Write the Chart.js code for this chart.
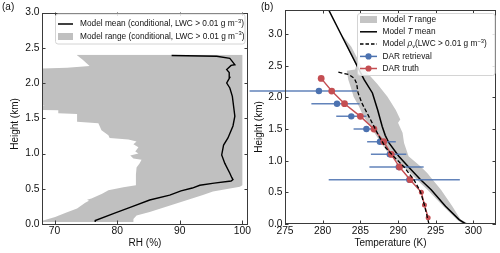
<!DOCTYPE html>
<html><head><meta charset="utf-8">
<script src="https://cdn.jsdelivr.net/npm/chart.js@4/dist/chart.umd.min.js"></script>
<style>
html,body{margin:0;padding:0;background:#fff;}
#wrap{position:relative;width:500px;height:253px;background:#fff;}
canvas{position:absolute;left:0;top:0;}
</style></head><body>
<div id="wrap"><canvas id="ca" width="500" height="253"></canvas><canvas id="cb" width="500" height="253"></canvas></div>
<script>
// ---------------- Panel (a): RH profile ----------------
const rhRangeLowHeight = [0.03,0.05,0.10,0.16,0.22,0.30,0.33,0.345,0.36,0.43,0.48,0.52,0.55,0.70,0.80,0.86,0.91,0.93,0.97,1.00,1.03,1.09,1.13,1.17,1.20,1.22,1.26,1.33,1.43,1.45,1.56,1.57,1.615,1.62,1.665,1.68,1.695,2.20,2.215,2.24,2.33,2.40];
const rhRangeLowValue  = [66,68.2,70.1,71.8,73.6,74.9,75.5,75.2,75.9,77.6,78.6,81.0,83.0,83.0,83.1,83.6,83.9,82.6,82.1,83.4,82.9,83.4,82.6,83.1,81.8,78.8,78.6,77.5,77.0,73.6,73.6,70.6,70.6,66,66,68.5,66,66,72,75.6,74.5,73.5];
const rhRangeHighHeight = [0.03,0.07,0.12,0.17,0.41,0.46,0.53,0.55,2.40];
const rhRangeHighValue  = [82.6,82.6,83.1,85.2,93.7,95.3,99.6,100.0,100.0];
const rhMeanHeight = [0.03,0.05,0.15,0.25,0.34,0.41,0.47,0.51,0.55,0.58,0.61,0.63,0.66,0.72,0.86,0.98,1.12,1.22,1.39,1.53,1.81,1.93,2.00,2.08,2.15,2.19,2.25,2.26,2.35,2.38,2.39];
const rhMeanValue  = [76.5,76.5,79.5,82.5,85.2,88.4,90.2,92.0,93.2,95.5,98.2,98.5,98.3,98.0,97.2,96.7,97.0,97.7,98.5,98.8,98.4,98.0,97.5,98.0,97.9,97.5,98.2,98.8,98.0,95.9,88.7];
const rhTicks = [70,80,90,100];
const heightTicksA = [0,0.5,1.0,1.5,2.0,2.5,3.0];

// ---------------- Panel (b): Temperature profile ----------------
const tMeanHeight = [0,0.07,0.28,0.54,0.70,0.90,1.07,1.28,1.40,1.54,1.80,2.07,2.28,2.91,3.38];
const tMeanValue  = [299.0,298.1,296.3,294.4,293.0,291.4,290.1,288.8,288.3,287.9,287.3,286.6,285.5,282.8,280.8];
const tRangeLowHeight = [0,0.07,0.28,0.54,0.70,0.90,1.07,1.22,1.38,1.54,1.70,1.86,2.01,2.17,2.28,2.42,2.44,2.5,2.8,3.0];
const tRangeLowValue  = [298.6,297.8,296.0,293.9,292.5,290.8,289.0,288.1,287.2,286.3,285.4,284.8,284.1,283.7,283.4,283.2,284.3,284.45,283.2,282.4];
const tRangeHighHeight = [0,0.07,0.28,0.54,0.70,0.80,0.91,1.07,1.28,1.44,1.57,1.60,1.65,1.80,2.01,2.22,2.43,2.5,2.8,3.0];
const tRangeHighValue  = [299.4,298.3,297.2,295.7,294.6,293.9,293.0,291.4,290.8,290.6,290.1,290.0,290.3,289.7,288.6,287.2,285.6,285.1,283.8,282.45];
const rhoVHeight = [0,0.10,0.30,0.50,0.55,0.70,0.90,1.07,1.20,1.38,1.59,1.75,1.91,2.07,2.22,2.30,2.36,2.40];
const rhoVValue  = [294.1,293.9,293.5,293.0,292.8,292.1,290.8,289.4,288.4,287.5,286.6,285.9,285.2,284.7,284.5,284.2,283.5,282.0];
const darTruthHeight = [2.3,2.1,1.9,1.7,1.5,1.3,1.1,0.9,0.7,0.5,0.3,0.1];
const darTruthValue  = [279.8,281.2,282.9,285.0,286.8,288.1,289.1,290.2,291.6,293.1,293.5,294.0];
const darRetHeight = [2.1,1.9,1.7,1.5,1.3,1.1,0.9,0.7];
const darRetValue  = [279.5,281.9,283.8,285.8,287.6,288.9,290.1,291.5];
const darRetLow    = [270.3,278.5,281.8,284.1,285.9,286.4,286.2,280.8];
const darRetHigh   = [284.6,284.9,285.8,287.1,289.7,291.1,293.4,298.2];
const tempTicks = [275,280,285,290,295,300];
const heightTicksB = [0,0.5,1.0,1.5,2.0,2.5,3.0];

// ---------------- helpers ----------------
const pts = (hs, vs) => hs.map((h, i) => ({x: vs[i], y: h}));
const FONT = 'Liberation Sans, Arial, sans-serif';
const BLUE = '#4c72b0', RED = '#c44e52';

function richText(ctx, x, y, parts, size) {
  let cx = x;
  for (const p of parts) {
    let s = size, dy = 0, st = p.i ? 'italic ' : '';
    if (p.sup) { s = size * 0.7; dy = -size * 0.35; }
    if (p.sub) { s = size * 0.7; dy = size * 0.25; }
    ctx.font = st + s + 'px ' + FONT;
    ctx.fillText(p.t, cx, y + dy);
    cx += ctx.measureText(p.t).width;
  }
}

function drawLegend(ctx, box, items, size) {
  ctx.save();
  ctx.beginPath();
  ctx.roundRect(box.x + 0.5, box.y + 0.5, box.w, box.h, 2.5);
  ctx.fillStyle = 'rgba(255,255,255,0.85)';
  ctx.fill();
  ctx.strokeStyle = '#d4d4d4';
  ctx.lineWidth = 1;
  ctx.stroke();
  for (const it of items) {
    const x0 = box.x + box.sx0, x1 = box.x + box.sx1, y = it.y, xm = (x0 + x1) / 2;
    ctx.setLineDash([]);
    if (it.type === 'rect') {
      ctx.fillStyle = it.color; ctx.fillRect(x0, y - 3.5, x1 - x0, 7);
    } else if (it.type === 'line' || it.type === 'dash') {
      ctx.strokeStyle = it.color; ctx.lineWidth = 1.5;
      if (it.type === 'dash') ctx.setLineDash([3.5, 2]);
      ctx.beginPath(); ctx.moveTo(x0, y); ctx.lineTo(x1, y); ctx.stroke();
    } else if (it.type === 'marker') {
      ctx.strokeStyle = it.color; ctx.lineWidth = 1.5;
      if (it.withLine) { ctx.beginPath(); ctx.moveTo(x0, y); ctx.lineTo(x1, y); ctx.stroke(); }
      ctx.fillStyle = it.color; ctx.beginPath(); ctx.arc(xm, y, 3.1, 0, Math.PI * 2); ctx.fill();
    }
    ctx.setLineDash([]);
    ctx.fillStyle = '#111'; ctx.textBaseline = 'middle'; ctx.textAlign = 'left';
    richText(ctx, box.x + box.tx, y, it.parts, size);
  }
  ctx.restore();
}

const framePlugin = {
  id: 'frame',
  afterDatasetsDraw(chart) {
    const {ctx, chartArea: {left, right, top, bottom}, scales: {x, y}} = chart;
    ctx.save();
    ctx.strokeStyle = '#3a3a3a'; ctx.lineWidth = 1;
    ctx.strokeRect(Math.round(left) + 0.5, Math.round(top) + 0.5, Math.round(right - left) - 1, Math.round(bottom - top) - 1);
    const L = 3.5;
    ctx.beginPath();
    for (const t of x.ticks) {
      const px = Math.round(x.getPixelForValue(t.value)) + 0.5;
      ctx.moveTo(px, bottom); ctx.lineTo(px, bottom - L);
      ctx.moveTo(px, top); ctx.lineTo(px, top + L);
    }
    for (const t of y.ticks) {
      const py = Math.round(y.getPixelForValue(t.value)) + 0.5;
      ctx.moveTo(left, py); ctx.lineTo(left + L, py);
      ctx.moveTo(right, py); ctx.lineTo(right - L, py);
    }
    ctx.stroke();
    ctx.restore();
  },
  afterDraw(chart, args, opts) {
    const ctx = chart.ctx;
    ctx.save(); ctx.fillStyle = '#111'; ctx.textBaseline = 'middle'; ctx.textAlign = 'center';
    if (opts.panel) {
      ctx.font = '10px ' + FONT; ctx.textAlign = 'left';
      ctx.fillText(opts.panel.text, opts.panel.x, opts.panel.y);
    }
    if (opts.yTitle) {
      ctx.font = '10px ' + FONT; ctx.textAlign = 'center';
      ctx.translate(opts.yTitle.x, opts.yTitle.y); ctx.rotate(-Math.PI / 2);
      ctx.fillText(opts.yTitle.text, 0, 0);
    }
    ctx.restore();
    if (opts.legend) drawLegend(ctx, opts.legend.box, opts.legend.items, opts.legend.size);
  }
};

const errPlugin = {
  id: 'errbars',
  beforeDatasetDraw(chart, args, opts) {
    if (!opts.enabled || args.index !== opts.datasetIndex) return;
    const {ctx, scales: {x, y}} = chart;
    ctx.save();
    ctx.strokeStyle = 'rgba(76,114,176,0.88)'; ctx.lineWidth = 1.5;
    ctx.beginPath();
    darRetHeight.forEach((h, i) => {
      const py = y.getPixelForValue(h);
      ctx.moveTo(x.getPixelForValue(darRetLow[i]), py);
      ctx.lineTo(x.getPixelForValue(darRetHigh[i]), py);
    });
    ctx.stroke();
    ctx.restore();
  }
};

function axisOpts(min, max, ticksArr, title, isY, titlePad, fmt) {
  return {
    type: 'linear', min, max,
    afterBuildTicks: s => { s.ticks = ticksArr.map(v => ({value: v})); },
    grid: {display: false, drawTicks: false},
    border: {display: false},
    ticks: {
      color: '#111', font: {family: FONT, size: 10.3}, padding: isY ? 2.5 : 1,
      autoSkip: false, maxRotation: 0, includeBounds: false,
      callback: v => fmt(v)
    },
    title: {display: !isY, text: title, color: '#111', font: {family: FONT, size: 10}, padding: titlePad}
  };
}

Chart.defaults.font.family = FONT;

// Panel a
new Chart(document.getElementById('ca'), {
  type: 'line',
  plugins: [framePlugin],
  data: {
    datasets: [
      {label: 'Model mean', data: pts(rhMeanHeight, rhMeanValue), borderColor: '#000', borderWidth: 1.4, pointRadius: 0, fill: false, order: 0},
      {label: 'Model range low', data: pts(rhRangeLowHeight, rhRangeLowValue), borderColor: 'rgba(0,0,0,0)', borderWidth: 0.01, pointRadius: 0, backgroundColor: '#c0c0c0', fill: '+1', order: 2},
      {label: 'Model range high', data: pts(rhRangeHighHeight, rhRangeHighValue), borderColor: 'rgba(0,0,0,0)', borderWidth: 0.01, pointRadius: 0, fill: false, order: 3}
    ]
  },
  options: {
    indexAxis: 'y', responsive: false, animation: false, devicePixelRatio: 1, events: [],
    layout: {padding: {left: 0, right: 252, top: 12.5, bottom: 0}},
    elements: {line: {tension: 0}},
    scales: {
      x: Object.assign(axisOpts(68, 100.9, rhTicks, 'RH (%)', false, {top: 0, bottom: 4}, v => String(v)), {afterFit: s => { s.height = 29; s.paddingLeft = 0; s.paddingRight = 0; }}),
      y: Object.assign(axisOpts(0, 3.0, heightTicksA, 'Height (km)', true, {top: 0, bottom: 0}, v => v.toFixed(1)), {afterFit: s => { s.width = 42; s.paddingTop = 0; s.paddingBottom = 0; }})
    },
    plugins: {
      legend: {display: false}, tooltip: {enabled: false},
      frame: {
        panel: {text: '(a)', x: 2, y: 7},
        yTitle: {text: 'Height (km)', x: 15.5, y: 124},
        legend: {
          size: 8.3,
          box: {x: 55, y: 13.5, w: 189.5, h: 30, sx0: 3, sx1: 18, tx: 25},
          items: [
            {type: 'line', color: '#000', y: 24, parts: [{t: 'Model mean (conditional, LWC > 0.01 g m'}, {t: '\u22123', sup: true}, {t: ')'}]},
            {type: 'rect', color: '#c0c0c0', y: 36.5, parts: [{t: 'Model range (conditional, LWC > 0.01 g m'}, {t: '\u22123', sup: true}, {t: ')'}]}
          ]
        }
      }
    }
  }
});

// Panel b
new Chart(document.getElementById('cb'), {
  type: 'line',
  plugins: [framePlugin, errPlugin],
  data: {
    datasets: [
      {label: 'Model T range low', data: pts(tRangeLowHeight, tRangeLowValue), borderColor: 'rgba(0,0,0,0)', borderWidth: 0.01, pointRadius: 0, backgroundColor: '#c4c4c4', fill: '+1', order: 6},
      {label: 'Model T range high', data: pts(tRangeHighHeight, tRangeHighValue), borderColor: 'rgba(0,0,0,0)', borderWidth: 0.01, pointRadius: 0, fill: false, order: 7},
      {label: 'Model T mean', data: pts(tMeanHeight, tMeanValue), borderColor: '#000', borderWidth: 1.5, pointRadius: 0, fill: false, order: 5},
      {label: 'Model rho_v', data: pts(rhoVHeight, rhoVValue), borderColor: '#000', borderWidth: 1.3, borderDash: [4, 2.2], pointRadius: 0, fill: false, order: 0},
      {label: 'DAR retrieval', data: pts(darRetHeight, darRetValue), showLine: false, pointRadius: 3.2, pointBackgroundColor: BLUE, pointBorderWidth: 0, pointBorderColor: BLUE, fill: false, order: 3},
      {label: 'DAR truth', data: pts(darTruthHeight, darTruthValue), borderColor: RED, borderWidth: 1.4, pointRadius: c => (c.raw && c.raw.y < 0.6 ? 2.5 : 3.4), pointBackgroundColor: RED, pointBorderWidth: 0, fill: false, order: 1}
    ]
  },
  options: {
    indexAxis: 'y', responsive: false, animation: false, devicePixelRatio: 1, events: [],
    layout: {padding: {left: 250, right: 4, top: 10, bottom: 0}},
    elements: {line: {tension: 0}},
    scales: {
      x: Object.assign(axisOpts(275, 303, tempTicks, 'Temperature (K)', false, {top: 0, bottom: 4}, v => String(v)), {afterFit: s => { s.height = 29; s.paddingLeft = 0; s.paddingRight = 0; }}),
      y: Object.assign(axisOpts(0, 3.38, heightTicksB, 'Height (km)', true, {top: 0, bottom: 0}, v => v.toFixed(1)), {afterFit: s => { s.width = 35; s.paddingTop = 0; s.paddingBottom = 0; }})
    },
    plugins: {
      legend: {display: false}, tooltip: {enabled: false},
      errbars: {enabled: true, datasetIndex: 4},
      frame: {
        panel: {text: '(b)', x: 261, y: 7},
        yTitle: {text: 'Height (km)', x: 258.8, y: 127},
        legend: {
          size: 8.3,
          box: {x: 357, y: 13, w: 137.5, h: 62, sx0: 3, sx1: 20, tx: 25.5},
          items: [
            {type: 'rect', color: '#c4c4c4', y: 19.5, parts: [{t: 'Model '}, {t: 'T', i: true}, {t: ' range'}]},
            {type: 'line', color: '#000', y: 31.8, parts: [{t: 'Model '}, {t: 'T', i: true}, {t: ' mean'}]},
            {type: 'dash', color: '#000', y: 44.1, parts: [{t: 'Model '}, {t: '\u03c1', i: true}, {t: 'v', i: true, sub: true}, {t: '(LWC > 0.01 g m'}, {t: '\u22123', sup: true}, {t: ')'}]},
            {type: 'marker', color: BLUE, withLine: true, y: 56.4, parts: [{t: 'DAR retrieval'}]},
            {type: 'marker', color: RED, withLine: true, y: 68.5, parts: [{t: 'DAR truth'}]}
          ]
        }
      }
    }
  }
});
</script>
</body></html>
